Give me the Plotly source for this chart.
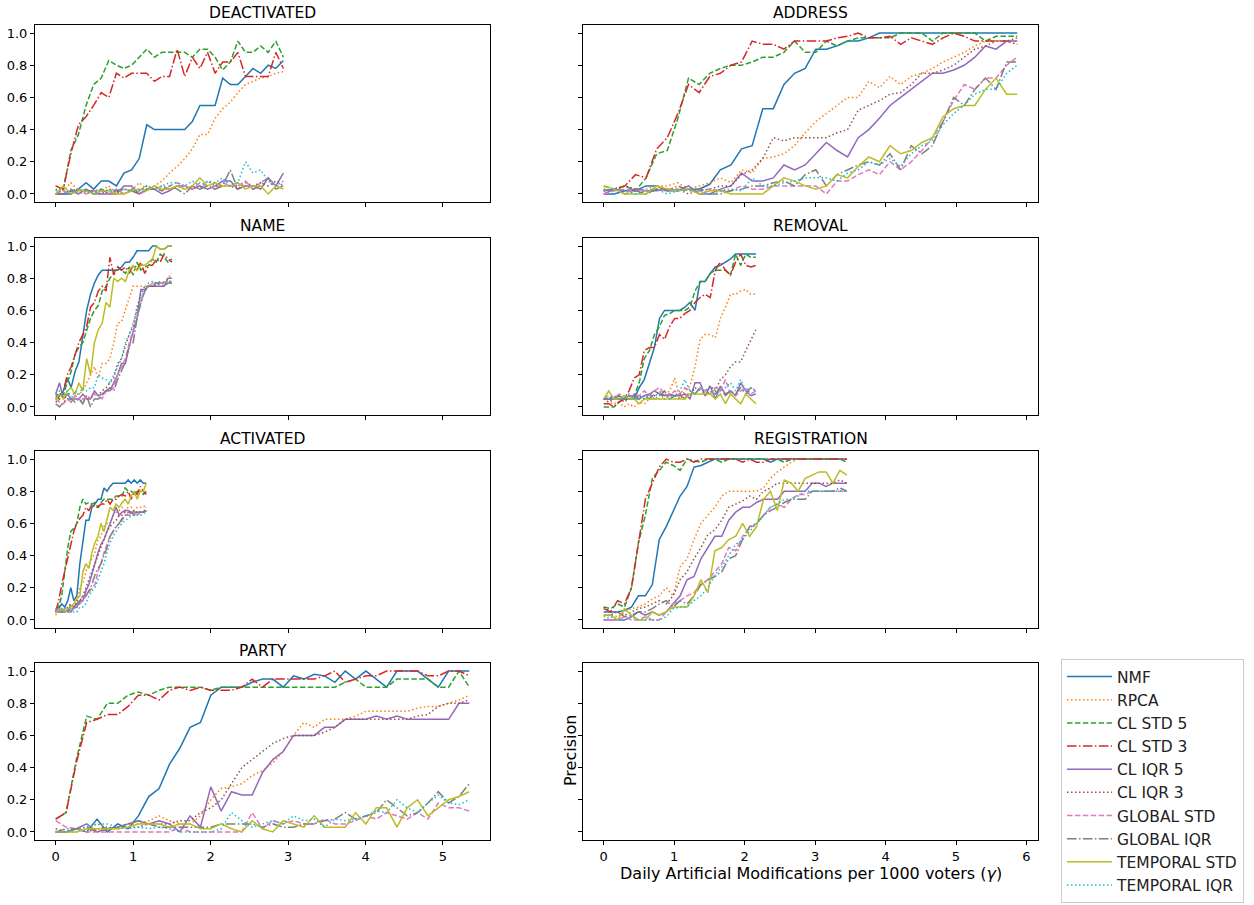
"""
Detection precision per modification type, one panel per type.
"""

import plotly.graph_objects as go

METHODS = ["NMF", "RPCA", "CL STD 5", "CL STD 3", "CL IQR 5", "CL IQR 3",
           "GLOBAL STD", "GLOBAL IQR", "TEMPORAL STD", "TEMPORAL IQR"]
COLORS = ["#1f77b4", "#ff7f0e", "#2ca02c", "#d62728", "#9467bd",
          "#8c564b", "#e377c2", "#7f7f7f", "#bcbd22", "#17becf"]
DOT = "1.5px,2.5px"
DASH = "5.5px,2.4px"
DASHDOT = "9.6px,2.4px,1.5px,2.4px"
DASHES = ["solid", DOT, DASH, DASHDOT, "solid", DOT, DASH, DASHDOT, "solid", DOT]

# sampling interval of gamma in each panel
DEA_STEP = 0.098
ADR_STEP = 0.1505
NAM_STEP = 0.05
REM_STEP = 0.072
ACT_STEP = 0.039
REG_STEP = 0.0986
PAR_STEP = 0.1335

# DEACTIVATED
DEA_NMF = [0,0,0,0.03,0.07, 0.03,0.08,0.08,0.05,0.13, 0.15,0.22,0.43,0.4,0.4, 0.4,0.4,0.4,0.45,0.55, 0.55,0.55,0.72,0.68,0.68, 0.73,0.78,0.75,0.8,0.78, 0.83]
DEA_RPCA = [0.05,0.02,0.07,0.02,0.03, 0.01,0.02,0.05,0.0,0.03, 0.02,0.07,0.03,0.05,0.08, 0.13,0.17,0.22,0.28,0.37, 0.37,0.47,0.53,0.57,0.63, 0.68,0.7,0.72,0.73,0.75, 0.76]
DEA_CLSTD5 = [0.0,0.03,0.27,0.37,0.55, 0.68,0.72,0.83,0.8,0.78, 0.8,0.85,0.9,0.85,0.88, 0.88,0.88,0.88,0.85,0.9, 0.9,0.85,0.77,0.82,0.95, 0.88,0.88,0.92,0.88,0.95, 0.85]
DEA_CLSTD3 = [0.05,0.03,0.25,0.43,0.48, 0.55,0.63,0.6,0.75,0.72, 0.75,0.75,0.75,0.7,0.73, 0.73,0.9,0.73,0.85,0.78, 0.88,0.75,0.82,0.82,0.88, 0.73,0.73,0.73,0.73,0.88, 0.78]
DEA_CLIQR5 = [0,0,0.02,0,0.03, 0,0,0,0,0.05, 0.05,0,0.03,0.03,0, 0.02,0.05,0.05,0.03,0.05, 0.03,0.05,0.08,0.08,0.03, 0.05,0.05,0.03,0.1,0.05, 0.13]
DEA_CLIQR3 = [0.03,0,0.02,0.03,0, 0.02,0,0.03,0.02,0, 0.03,0.02,0.05,0.03,0.05, 0.03,0.05,0.03,0.05,0.03, 0.08,0.05,0.05,0.05,0.03, 0.07,0.05,0.07,0.05,0.08, 0.05]
DEA_GLSTD = [0,0.02,0,0.03,0, 0.02,0.02,0,0.03,0, 0.02,0,0.02,0.05,0.02, 0.05,0.07,0.05,0.03,0.07, 0.05,0.03,0.07,0.05,0.05, 0.08,0.03,0.07,0.1,0.05, 0.05]
DEA_GLIQR = [0,0,0.03,0,0.02, 0.02,0.03,0,0.02,0.03, 0.02,0,0.03,0.03,0.02, 0.05,0.03,0,0.05,0.03, 0.05,0.03,0.05,0.15,0.03, 0.05,0.03,0.05,0.1,0.03, 0.05]
DEA_TPSTD = [0,0.05,0,0.02,0.02, 0,0.02,0.02,0,0, 0.02,0.03,0.02,0.05,0.03, 0.03,0.05,0.03,0.05,0.1, 0.05,0.07,0.05,0.05,0.07, 0.03,0.05,0.05,0,0.05, 0.03]
DEA_TPIQR = [0.02,0.03,0,0.03,0.02, 0,0.03,0.02,0.02,0.03, 0.02,0.02,0.05,0.03,0.05, 0.07,0.07,0.05,0.08,0.05, 0.08,0.07,0.1,0.05,0.07, 0.2,0.13,0.15,0.08,0.05, 0.08]

# ADDRESS
ADR_NMF = [0,0,0.02,0.02,0.05, 0.05,0.02,0.02,0.03,0.03, 0.06,0.15,0.18,0.28,0.3, 0.53,0.53,0.68,0.75,0.78, 0.9,0.9,0.92,0.95,0.95, 0.97,1,1,1,1, 1,1,1,1,1, 1,1,1,1,1]
ADR_RPCA = [0.02,0.03,0.05,0.02,0.03, 0.05,0.05,0.07,0.03,0.05, 0.07,0.1,0.07,0.15,0.13, 0.22,0.23,0.25,0.3,0.38, 0.45,0.5,0.55,0.6,0.6, 0.7,0.66,0.73,0.68,0.73, 0.75,0.78,0.82,0.85,0.88, 0.92,0.95,0.95,0.95,0.95]
ADR_CLSTD5 = [0.05,0.03,0.05,0.02,0.1, 0.25,0.27,0.47,0.72,0.68, 0.75,0.78,0.8,0.8,0.82, 0.85,0.85,0.88,0.95,0.88, 0.88,0.95,0.92,0.95,0.97, 0.97,0.97,0.97,1,1, 1,0.95,1,1,1, 1,0.95,0.98,0.98,0.98]
ADR_CLSTD3 = [0.02,0.03,0.05,0.12,0.1, 0.28,0.35,0.5,0.68,0.63, 0.73,0.75,0.8,0.82,0.95, 0.93,0.93,0.9,0.95,0.95, 0.95,0.95,0.97,0.98,1, 0.97,0.97,0.98,0.93,0.97, 0.95,0.93,0.97,1,0.98, 0.95,0.95,0.95,0.95,0.93]
ADR_CLIQR5 = [0,0.03,0.02,0.03,0.02, 0.02,0.03,0.02,0.05,0, 0,0.03,0.05,0.13,0.08, 0.08,0.1,0.18,0.15,0.18, 0.25,0.32,0.27,0.23,0.35, 0.4,0.47,0.55,0.6,0.65, 0.7,0.75,0.75,0.77,0.8, 0.85,0.92,0.9,0.95,0.95]
ADR_CLIQR3 = [0.03,0.02,0.05,0.03,0, 0.03,0.02,0.03,0,0.02, 0.03,0.05,0.05,0.12,0.15, 0.22,0.35,0.33,0.35,0.35, 0.35,0.35,0.38,0.4,0.52, 0.55,0.58,0.62,0.63,0.68, 0.75,0.75,0.77,0.8,0.85, 0.9,0.92,0.95,0.95,0.97]
ADR_GLSTD = [0,0.02,0.03,0.02,0.02, 0.03,0.02,0.03,0.02,0.02, 0.03,0.02,0.02,0.05,0.03, 0.03,0.05,0.05,0.05,0.05, 0.05,0,0.08,0.08,0.12, 0.15,0.12,0.2,0.15,0.2, 0.27,0.35,0.45,0.58,0.68, 0.65,0.72,0.72,0.8,0.85]
ADR_GLIQR = [0.02,0.03,0,0.02,0, 0.03,0.02,0.05,0.02,0.03, 0,0,0.02,0.03,0.05, 0.05,0.07,0.08,0.05,0.12, 0.15,0.05,0.12,0.15,0.18, 0.2,0.18,0.25,0.15,0.3, 0.25,0.3,0.45,0.6,0.55, 0.65,0.72,0.65,0.82,0.82]
ADR_TPSTD = [0.05,0.03,0,0,0, 0.05,0.03,0.02,0.03,0, 0.02,0.02,0,0,0, 0,0.05,0.1,0.08,0.05, 0.03,0.05,0.12,0.1,0.17, 0.23,0.2,0.3,0.25,0.27, 0.32,0.35,0.48,0.53,0.55, 0.55,0.65,0.72,0.62,0.62]
ADR_TPIQR = [0.02,0.03,0.02,0,0.02, 0.03,0,0.02,0.03,0.02, 0,0.02,0.03,0.02,0.1, 0.05,0.05,0.07,0.08,0.1, 0.1,0.1,0.08,0.13,0.15, 0.2,0.18,0.22,0.17,0.25, 0.3,0.33,0.43,0.5,0.55, 0.62,0.65,0.65,0.75,0.8]

# NAME
NAM_NMF = [0.08,0.07,0.1,0.18,0.12, 0.22,0.28,0.45,0.6,0.7, 0.77,0.82,0.85,0.85,0.85, 0.85,0.85,0.87,0.9,0.9, 0.93,0.97,0.97,0.97,0.97, 1,1,0.98,0.98,1, 1]
NAM_RPCA = [0.05,0.08,0.07,0.08,0.08, 0.08,0.08,0.1,0.15,0.2, 0.25,0.18,0.27,0.27,0.3, 0.4,0.52,0.53,0.6,0.68, 0.75,0.75,0.75,0.75,0.75, 0.77,0.77,0.77,0.78,0.8, 0.83]
NAM_CLSTD5 = [0.07,0.05,0.08,0.15,0.22, 0.33,0.37,0.4,0.47,0.55, 0.6,0.63,0.72,0.75,0.8, 0.83,0.87,0.85,0.83,0.87, 0.82,0.9,0.85,0.87,0.88, 0.92,0.9,0.95,0.93,0.9, 0.92]
NAM_CLSTD3 = [0.05,0.07,0.1,0.2,0.25, 0.32,0.4,0.45,0.5,0.62, 0.65,0.72,0.75,0.72,0.93, 0.82,0.87,0.85,0.87,0.83, 0.88,0.85,0.9,0.83,0.88, 0.88,0.92,0.9,0.95,0.92, 0.9]
NAM_CLIQR5 = [0.08,0.15,0.05,0.08,0.05, 0.05,0.05,0.08,0.05,0.05, 0.1,0.07,0.08,0.1,0.1, 0.15,0.2,0.27,0.27,0.38, 0.47,0.55,0.73,0.73,0.75, 0.75,0.75,0.75,0.75,0.8, 0.8]
NAM_CLIQR3 = [0.03,0.05,0.07,0.05,0.03, 0.07,0.05,0.05,0.07,0.05, 0.08,0.07,0.1,0.12,0.15, 0.18,0.27,0.3,0.38,0.45, 0.5,0.62,0.7,0.75,0.75, 0.75,0.75,0.77,0.77,0.78, 0.78]
NAM_GLSTD = [0.05,0.03,0.02,0.05,0.03, 0.07,0.05,0.03,0.07,0.05, 0.08,0.07,0.05,0.1,0.1, 0.12,0.2,0.25,0.3,0.4, 0.48,0.55,0.65,0.72,0.75, 0.77,0.77,0.77,0.77,0.77, 0.77]
NAM_GLIQR = [0.02,0,0.03,0.05,0.05, 0.03,0.05,0.02,0.07,0, 0.05,0.05,0.07,0.1,0.12, 0.1,0.17,0.23,0.28,0.38, 0.4,0.55,0.65,0.72,0.75, 0.75,0.77,0.77,0.75,0.77, 0.77]
NAM_TPSTD = [0.05,0.08,0.05,0.1,0.12, 0.08,0.15,0.1,0.3,0.2, 0.4,0.48,0.52,0.65,0.62, 0.8,0.78,0.8,0.78,0.85, 0.88,0.85,0.88,0.88,0.9, 0.92,1,0.98,0.98,1, 1]
NAM_TPIQR = [0.08,0.1,0.07,0.1,0.05, 0.1,0.08,0.12,0.1,0.12, 0.12,0.2,0.18,0.17,0.15, 0.2,0.25,0.3,0.4,0.45, 0.52,0.6,0.68,0.72,0.77, 0.78,0.77,0.78,0.77,0.78, 0.78]

# REMOVAL
REM_NMF = [0.05,0.05,0.05,0.05,0.05, 0.05,0.05,0.12,0.17,0.27, 0.37,0.55,0.6,0.6,0.6, 0.6,0.62,0.65,0.6,0.78, 0.78,0.83,0.87,0.88,0.9, 0.92,0.95,0.95,0.95,0.95, 0.95]
REM_RPCA = [0.05,0.03,0.02,0.03,0, 0.02,0,0.03,0.02,0.05, 0.05,0.05,0.07,0.1,0.18, 0.05,0.1,0.13,0.25,0.42, 0.45,0.45,0.43,0.55,0.62, 0.7,0.7,0.72,0.73,0.7, 0.7]
REM_CLSTD5 = [0,0,0,0.03,0.05, 0.05,0.07,0.15,0.3,0.35, 0.45,0.5,0.57,0.58,0.6, 0.6,0.6,0.62,0.72,0.78, 0.78,0.83,0.85,0.85,0.85, 0.82,0.95,0.88,0.95,0.93, 0.93]
REM_CLSTD3 = [0.02,0.02,0,0.03,0.05, 0.1,0.18,0.2,0.35,0.37, 0.37,0.45,0.42,0.5,0.55, 0.55,0.58,0.6,0.65,0.68, 0.7,0.68,0.85,0.9,0.85, 0.82,0.9,0.95,0.88,0.87, 0.88]
REM_CLIQR5 = [0.05,0.05,0.05,0.07,0.05, 0.07,0.07,0.05,0.07,0.08, 0.1,0.08,0.07,0.08,0.07, 0.07,0.08,0.05,0.15,0.15, 0.07,0.13,0.05,0.13,0.08, 0.1,0.07,0.15,0.1,0.07, 0.08]
REM_CLIQR3 = [0.05,0.03,0.05,0.07,0.03, 0.05,0.05,0.07,0.05,0.07, 0.07,0.1,0.05,0.07,0.07, 0.05,0.08,0.07,0.12,0.1, 0.1,0.13,0.1,0.17,0.2, 0.25,0.28,0.28,0.35,0.42, 0.48]
REM_GLSTD = [0.05,0.07,0.05,0.08,0.07, 0.05,0.08,0.07,0.1,0.07, 0.1,0.12,0.08,0.07,0.1, 0.08,0.12,0.1,0.08,0.12, 0.1,0.08,0.12,0.1,0.17, 0.08,0.07,0.1,0.12,0.08, 0.1]
REM_GLIQR = [0.05,0.05,0.07,0.05,0.05, 0.07,0.05,0.05,0.07,0.05, 0.08,0.07,0.1,0.05,0.07, 0.08,0.05,0.1,0.08,0.12, 0.07,0.1,0.08,0.12,0.07, 0.1,0.08,0.12,0.08,0.12, 0.1]
REM_TPSTD = [0.05,0.1,0.05,0.05,0.07, 0.05,0.05,0.02,0.05,0.05, 0.05,0.05,0.05,0.05,0.05, 0.05,0.05,0.08,0.08,0.08, 0.08,0.08,0.05,0.08,0.02, 0.08,0.05,0.02,0.08,0.05, 0.02]
REM_TPIQR = [0.05,0.05,0.07,0.05,0.05, 0.08,0.05,0.07,0.05,0.08, 0.05,0.07,0.08,0.05,0.07, 0.1,0.17,0.1,0.08,0.12, 0.1,0.12,0.08,0.1,0.12, 0.15,0.1,0.17,0.1,0.12, 0.1]

# ACTIVATED
ACT_NMF = [0.05,0.07,0.1,0.08,0.12, 0.2,0.12,0.15,0.35,0.5, 0.62,0.62,0.7,0.72,0.75, 0.75,0.82,0.8,0.83,0.85, 0.85,0.85,0.85,0.85,0.87, 0.85,0.87,0.85,0.87,0.85, 0.85]
ACT_RPCA = [0.03,0.07,0.05,0.05,0.07, 0.05,0.08,0.1,0.2,0.23, 0.3,0.35,0.38,0.42,0.5, 0.52,0.58,0.6,0.6,0.65, 0.67,0.68,0.7,0.68,0.7, 0.7,0.68,0.7,0.7,0.7, 0.72]
ACT_CLSTD5 = [0.07,0.08,0.15,0.3,0.45, 0.55,0.57,0.6,0.7,0.75, 0.72,0.73,0.72,0.73,0.7, 0.73,0.75,0.75,0.75,0.75, 0.77,0.77,0.77,0.82,0.8, 0.8,0.78,0.8,0.8,0.78, 0.8]
ACT_CLSTD3 = [0.05,0.12,0.22,0.3,0.4, 0.47,0.55,0.6,0.63,0.65, 0.7,0.68,0.72,0.7,0.7, 0.72,0.72,0.75,0.72,0.75, 0.75,0.77,0.78,0.77,0.8, 0.75,0.8,0.78,0.83,0.8, 0.78]
ACT_CLIQR5 = [0.05,0.07,0.05,0.05,0.07, 0.05,0.08,0.1,0.12,0.12, 0.18,0.22,0.28,0.35,0.42, 0.47,0.5,0.55,0.6,0.65, 0.7,0.65,0.67,0.68,0.68, 0.67,0.67,0.67,0.67,0.67, 0.68]
ACT_CLIQR3 = [0.05,0.05,0.07,0.05,0.08, 0.1,0.07,0.12,0.12,0.15, 0.2,0.25,0.3,0.35,0.4, 0.45,0.5,0.55,0.58,0.6, 0.62,0.65,0.65,0.67,0.65, 0.67,0.68,0.65,0.67,0.67, 0.7]
ACT_GLSTD = [0.05,0.07,0.05,0.07,0.05, 0.05,0.07,0.08,0.1,0.12, 0.15,0.17,0.2,0.22,0.3, 0.35,0.42,0.47,0.52,0.55, 0.58,0.6,0.62,0.65,0.65, 0.65,0.67,0.65,0.67,0.67, 0.68]
ACT_GLIQR = [0.05,0.05,0.05,0.08,0.05, 0.1,0.08,0.08,0.12,0.15, 0.15,0.18,0.22,0.28,0.32, 0.35,0.4,0.45,0.52,0.55, 0.58,0.6,0.63,0.65,0.67, 0.67,0.65,0.68,0.67,0.67, 0.68]
ACT_TPSTD = [0.05,0.05,0.07,0.05,0.07, 0.08,0.1,0.13,0.15,0.3, 0.35,0.32,0.42,0.48,0.52, 0.6,0.55,0.63,0.7,0.68, 0.72,0.7,0.73,0.75,0.72, 0.77,0.8,0.75,0.8,0.8, 0.85]
ACT_TPIQR = [0.07,0.05,0.07,0.05,0.05, 0.07,0.05,0.05,0.08,0.08, 0.1,0.15,0.18,0.2,0.25, 0.3,0.35,0.42,0.48,0.52, 0.55,0.58,0.6,0.62,0.63, 0.65,0.65,0.65,0.65,0.66, 0.67]

# REGISTRATION
REG_NMF = [0.05,0.05,0.05,0.06,0.08, 0.15,0.15,0.22,0.5,0.58, 0.68,0.77,0.83,0.95,0.96, 0.98,1,1,1,1, 1,1,1,1,0.98, 1,1,1,1,1, 1,1,1,1,1, 1]
REG_RPCA = [0.02,0.03,0.02,0.05,0.07, 0.08,0.1,0.13,0.15,0.2, 0.15,0.33,0.38,0.5,0.6, 0.65,0.7,0.77,0.8,0.8, 0.8,0.8,0.8,0.82,0.88, 0.92,0.95,0.98,1,1, 1,1,1,1,1, 1]
REG_CLSTD5 = [0.08,0.07,0.1,0.08,0.2, 0.48,0.65,0.88,0.93,0.98, 0.96,0.93,1,0.99,0.98, 1,1,0.98,1,1, 1,1,1,1,1, 1,0.98,1,1,1, 1,1,1,1,1, 0.98]
REG_CLSTD3 = [0.07,0.05,0.12,0.1,0.2, 0.48,0.75,0.85,0.95,1, 0.98,0.98,1,0.98,1, 1,1,1,1,1, 0.98,1,0.98,0.98,1, 1,1,1,1,1, 1,1,1,1,1, 1]
REG_CLIQR5 = [0,0,0,0,0.02, 0.05,0.03,0.05,0.03,0.05, 0.1,0.15,0.25,0.27,0.38, 0.45,0.52,0.52,0.62,0.67, 0.7,0.7,0.73,0.75,0.75, 0.75,0.8,0.8,0.8,0.8, 0.85,0.85,0.83,0.85,0.85, 0.85]
REG_CLIQR3 = [0.08,0.05,0.05,0.03,0.05, 0.07,0.08,0.1,0.12,0.1, 0.15,0.25,0.3,0.38,0.45, 0.53,0.56,0.62,0.7,0.72, 0.74,0.77,0.75,0.8,0.82, 0.85,0.85,0.85,0.85,0.85, 0.85,0.85,0.85,0.85,0.87, 0.85]
REG_GLSTD = [0,0,0,0.02,0, 0,0.02,0,0,0.05, 0.1,0.12,0.15,0.17,0.22, 0.25,0.3,0.35,0.45,0.43, 0.52,0.57,0.6,0.65,0.7, 0.72,0.7,0.75,0.78,0.78, 0.8,0.8,0.8,0.8,0.8, 0.8]
REG_GLIQR = [0.03,0.03,0.05,0.02,0.03, 0.05,0.05,0.07,0.1,0.12, 0.08,0.12,0.1,0.15,0.22, 0.25,0.27,0.3,0.38,0.4, 0.5,0.58,0.6,0.65,0.68, 0.7,0.73,0.75,0.75,0.75, 0.8,0.8,0.8,0.8,0.82, 0.8]
REG_TPSTD = [0.03,0.03,0,0.07,0.03, 0,0,0.05,0.03,0.05, 0.08,0.08,0.08,0.15,0.25, 0.17,0.43,0.45,0.5,0.52, 0.6,0.52,0.58,0.75,0.8, 0.68,0.87,0.85,0.8,0.88, 0.9,0.92,0.92,0.85,0.93, 0.9]
REG_TPIQR = [0,0.02,0,0,0.02, 0,0,0,0,0.02, 0.07,0.08,0.08,0.12,0.15, 0.2,0.28,0.33,0.4,0.47, 0.5,0.55,0.6,0.65,0.7, 0.72,0.75,0.75,0.77,0.8, 0.8,0.8,0.8,0.8,0.8, 0.8]

# PARTY
PAR_NMF = [0,0,0.02,0,0.08, 0,0.05,0.02,0.1,0.22, 0.27,0.42,0.52,0.65,0.68, 0.85,0.9,0.9,0.9,0.93, 0.95,0.95,0.9,0.97,0.95, 0.98,0.97,0.93,1,0.95, 1,0.95,0.9,1,1, 1,0.95,0.9,1,1, 1]
PAR_RPCA = [0,0,0,0.02,0.05, 0.02,0.03,0.05,0.05,0.07, 0.1,0.07,0.05,0.05,0.1, 0.2,0.27,0.28,0.3,0.35, 0.38,0.43,0.5,0.6,0.68, 0.65,0.7,0.7,0.7,0.72, 0.75,0.75,0.75,0.75,0.75, 0.77,0.78,0.78,0.8,0.82, 0.85]
PAR_CLSTD5 = [0.08,0.12,0.45,0.72,0.7, 0.8,0.8,0.85,0.87,0.85, 0.88,0.9,0.9,0.9,0.9, 0.88,0.9,0.9,0.9,0.9, 0.9,0.9,0.9,0.9,0.9, 0.9,0.9,0.9,0.93,0.95, 0.9,0.9,0.9,0.95,0.95, 0.95,0.95,0.9,0.9,1, 0.9]
PAR_CLSTD3 = [0.08,0.12,0.43,0.68,0.7, 0.73,0.73,0.78,0.85,0.85, 0.82,0.88,0.9,0.88,0.9, 0.88,0.88,0.88,0.9,0.95, 0.9,0.95,0.95,0.95,0.95, 0.95,0.97,1,0.93,0.95, 0.97,0.97,1,1,1, 1,0.97,0.97,1,1, 0.97]
PAR_CLIQR5 = [0,0,0.02,0.05,0, 0.02,0.03,0.05,0.07,0.05, 0.07,0.05,0,0.1,0.03, 0.28,0.13,0.25,0.23,0.23, 0.37,0.45,0.5,0.6,0.6, 0.6,0.65,0.65,0.7,0.7, 0.7,0.72,0.7,0.72,0.7, 0.7,0.7,0.7,0.7,0.8, 0.8]
PAR_CLIQR3 = [0.02,0,0.02,0,0.02, 0.03,0.02,0.03,0.03,0.05, 0.05,0.05,0.07,0.07,0.12, 0.15,0.2,0.3,0.4,0.45, 0.5,0.55,0.58,0.6,0.6, 0.6,0.62,0.65,0.7,0.7, 0.7,0.7,0.7,0.7,0.7, 0.72,0.73,0.78,0.8,0.8, 0.82]
PAR_GLSTD = [0.07,0.03,0.02,0,0, 0,0,0,0,0, 0,0,0.03,0,0, 0,0,0,0,0.12, 0.02,0.07,0.05,0.07,0.05, 0.05,0.08,0.05,0.05,0.07, 0.1,0.08,0.12,0.1,0.08, 0.12,0.08,0.18,0.15,0.15, 0.13]
PAR_GLIQR = [0,0.02,0.02,0.03,0, 0.02,0.03,0.05,0.07,0.05, 0.03,0.03,0.03,0.03,0.03, 0.03,0.05,0.05,0.05,0.05, 0.03,0.05,0.03,0.03,0.05, 0.05,0.07,0.08,0.12,0.08, 0.1,0.12,0.2,0.15,0.1, 0.12,0.18,0.25,0.18,0.22, 0.3]
PAR_TPSTD = [0,0,0,0.02,0.02, 0.02,0.02,0.03,0.05,0.05, 0.05,0.03,0.05,0.05,0.02, 0.02,0.05,0.02,0,0.07, 0.02,0,0.07,0.05,0.03, 0.1,0.03,0.03,0.03,0.12, 0.05,0.15,0.15,0.03,0.15, 0.2,0.1,0.15,0.2,0.22, 0.25]
PAR_TPIQR = [0,0,0.02,0.03,0.05, 0.05,0.03,0.02,0.03,0.02, 0.03,0.02,0,0,0, 0,0.02,0.12,0.07,0.03, 0.05,0.07,0.05,0.1,0.07, 0.08,0.03,0.08,0.07,0.08, 0.1,0.13,0.12,0.2,0.15, 0.12,0.18,0.23,0.18,0.17, 0.2]

# panels in row-major order (left, right)
PANELS = [
    ("DEACTIVATED", DEA_STEP, [DEA_NMF, DEA_RPCA, DEA_CLSTD5, DEA_CLSTD3, DEA_CLIQR5,
                               DEA_CLIQR3, DEA_GLSTD, DEA_GLIQR, DEA_TPSTD, DEA_TPIQR]),
    ("ADDRESS", ADR_STEP, [ADR_NMF, ADR_RPCA, ADR_CLSTD5, ADR_CLSTD3, ADR_CLIQR5,
                           ADR_CLIQR3, ADR_GLSTD, ADR_GLIQR, ADR_TPSTD, ADR_TPIQR]),
    ("NAME", NAM_STEP, [NAM_NMF, NAM_RPCA, NAM_CLSTD5, NAM_CLSTD3, NAM_CLIQR5,
                        NAM_CLIQR3, NAM_GLSTD, NAM_GLIQR, NAM_TPSTD, NAM_TPIQR]),
    ("REMOVAL", REM_STEP, [REM_NMF, REM_RPCA, REM_CLSTD5, REM_CLSTD3, REM_CLIQR5,
                           REM_CLIQR3, REM_GLSTD, REM_GLIQR, REM_TPSTD, REM_TPIQR]),
    ("ACTIVATED", ACT_STEP, [ACT_NMF, ACT_RPCA, ACT_CLSTD5, ACT_CLSTD3, ACT_CLIQR5,
                             ACT_CLIQR3, ACT_GLSTD, ACT_GLIQR, ACT_TPSTD, ACT_TPIQR]),
    ("REGISTRATION", REG_STEP, [REG_NMF, REG_RPCA, REG_CLSTD5, REG_CLSTD3, REG_CLIQR5,
                                REG_CLIQR3, REG_GLSTD, REG_GLIQR, REG_TPSTD, REG_TPIQR]),
    ("PARTY", PAR_STEP, [PAR_NMF, PAR_RPCA, PAR_CLSTD5, PAR_CLSTD3, PAR_CLIQR5,
                         PAR_CLIQR3, PAR_GLSTD, PAR_GLIQR, PAR_TPSTD, PAR_TPIQR]),
]

W, H = 1254, 905
FONT = "DejaVu Sans"

# axes boxes in pixels
COL_PX = [(35, 490), (583, 1038)]
ROW_PX = [(25, 202), (238, 415), (451, 628), (663, 840)]
X_RANGES = [[-0.267, 5.607], [-0.2935, 6.1635]]

fig = go.Figure()

for k, (title, step, series) in enumerate(PANELS):
    axis = "" if k == 0 else str(k + 1)
    for m, ys in enumerate(series):
        xs = [round(i * step, 4) for i in range(len(ys))]
        fig.add_trace(go.Scatter(
            x=xs, y=ys, mode="lines",
            name=METHODS[m], legendgroup=METHODS[m], showlegend=(k == 0),
            line=dict(color=COLORS[m], width=1.5, dash=DASHES[m]),
            xaxis="x" + axis, yaxis="y" + axis,
        ))

# empty eighth panel only carries the axis labels
fig.add_trace(go.Scatter(x=[None], y=[None], mode="lines", showlegend=False,
                         hoverinfo="skip", xaxis="x8", yaxis="y8"))

base_axis = dict(
    showline=True, linecolor="black", linewidth=1, mirror=True,
    ticks="outside", ticklen=4, tickwidth=1, tickcolor="black",
    showgrid=False, zeroline=False,
    tickfont=dict(family=FONT, size=13, color="black"),
)

layout = {}
annotations = []
for k in range(8):
    r, c = divmod(k, 2)
    name = "" if k == 0 else str(k + 1)
    x0, x1 = COL_PX[c]
    y0, y1 = ROW_PX[r]
    layout["xaxis" + name] = dict(
        base_axis, domain=[x0 / W, x1 / W], anchor="y" + name,
        range=X_RANGES[c], tickmode="array",
        tickvals=list(range(6)) if c == 0 else list(range(7)),
        showticklabels=(r == 3),
    )
    layout["yaxis" + name] = dict(
        base_axis, domain=[1 - y1 / H, 1 - y0 / H], anchor="x" + name,
        range=[-0.05, 1.05], tickmode="array",
        tickvals=[0, 0.2, 0.4, 0.6, 0.8, 1.0], tickformat=".1f",
        showticklabels=(c == 0),
    )
    if k < len(PANELS):
        annotations.append(dict(
            text=PANELS[k][0], xref="paper", yref="paper",
            x=(x0 + x1) / 2 / W, y=1 - y0 / H, xanchor="center", yanchor="bottom",
            yshift=1, showarrow=False, font=dict(family=FONT, size=15.5, color="black"),
        ))

annotations.append(dict(
    text="Daily Artificial Modifications per 1000 voters (<i>γ</i>)",
    xref="paper", yref="paper", x=(583 + 1038) / 2 / W, y=1 - 873 / H,
    xanchor="center", yanchor="middle", showarrow=False,
    font=dict(family=FONT, size=16, color="black"),
))
annotations.append(dict(
    text="Precision", textangle=-90,
    xref="paper", yref="paper", x=570 / W, y=1 - 751 / H,
    xanchor="center", yanchor="middle", showarrow=False,
    font=dict(family=FONT, size=16, color="black"),
))

fig.update_layout(
    **layout,
    annotations=annotations,
    width=W, height=H, autosize=False,
    margin=dict(l=0, r=0, t=0, b=0, autoexpand=False),
    paper_bgcolor="white", plot_bgcolor="white",
    font=dict(family=FONT, color="black"),
    legend=dict(
        x=1061 / W, y=1 - 659 / H, xanchor="left", yanchor="top",
        bgcolor="white", bordercolor="#cccccc", borderwidth=1,
        font=dict(family=FONT, size=15.5, color="#222222"),
        tracegroupgap=0, itemwidth=45,
    ),
)

# drop the browser's default page margin so the figure sits at (0, 0)
fig.write_html("out.html", config={"displayModeBar": False},
               post_script="document.body.style.margin='0';")
